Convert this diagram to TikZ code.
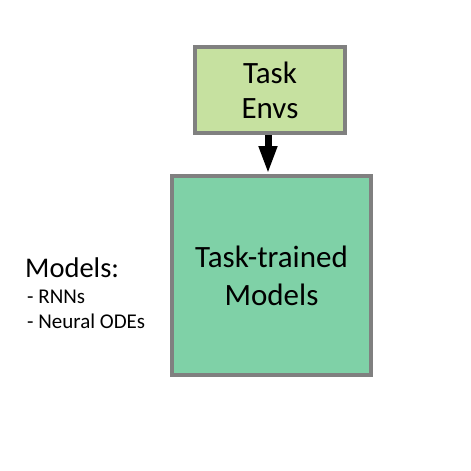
\documentclass[tikz,border=0pt]{standalone}
\usepackage{fontspec}
\setmainfont{Carlito}
\usetikzlibrary{arrows.meta}
\definecolor{envgreen}{HTML}{C6E1A0}
\definecolor{modelgreen}{HTML}{7FD1A7}
\definecolor{rahmen}{HTML}{808080}
\tikzset{
	box/.style={draw=rahmen, line width=4pt, inner sep=0pt, align=center},
}
\begin{document}
\begin{tikzpicture}[x=1pt,y=-1pt,>={Triangle[width=17pt,length=28pt]}]
	\useasboundingbox (0,0) rectangle (471,471);
	% Kasten oben
	\node[box, fill=envgreen, minimum width=150pt, minimum height=86pt,
		font=\fontsize{31}{35}\selectfont] (envs) at (270,90) {Task\\Envs};
	% Kasten unten
	\node[box, fill=modelgreen, minimum width=199pt, minimum height=199pt,
		font=\fontsize{31}{38}\selectfont] (models) at (271.5,275.5) {Task-trained\\Models};
	% Pfeil
	\draw[->, line width=7pt] ([xshift=-2pt]envs.south) -- ([xshift=-3.5pt]models.north);
	% Liste links
	\node[anchor=base west, inner sep=0pt, font=\fontsize{28.5}{28}\selectfont] (mtitle) at (25,277) {Models:};
	\node[anchor=base west, inner sep=0pt, font=\fontsize{21}{21}\selectfont] (rnn) at (27,303) {- RNNs};
	\node[anchor=base west, inner sep=0pt, font=\fontsize{21}{21}\selectfont] (ode) at (27,328) {- Neural ODEs};
\end{tikzpicture}
\end{document}
